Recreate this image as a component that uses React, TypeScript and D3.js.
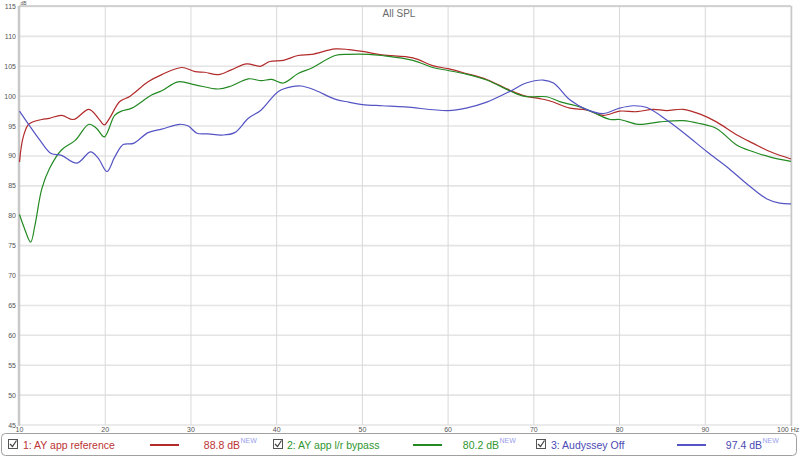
import * as d3 from "d3"
import React from "react"

// frequency (Hz) / SPL (dB) samples
const redFreq = [10, 10.4, 11, 11.4, 12.6, 13.5, 14.9, 16.3, 18.1, 19.2, 19.9, 20.5, 21.7, 22.9, 25, 26.6, 28.9, 30.5, 31.6, 33.2, 34.7, 36.5, 38.1, 39.2, 40.8, 42.5, 44.1, 46.8, 48.4, 50, 52.3, 55.9, 58.2, 60, 62.1, 64.5, 67.2, 68.8, 70.7, 71.9, 74.2, 76.1, 78.1, 80, 82, 83.9, 85.5, 87.4, 89.4, 91.3, 93.7, 95.6, 97.6, 100]
const redDb = [89.0, 93.0, 95.2, 95.6, 96.1, 96.3, 96.8, 96.1, 97.8, 96.3, 95.2, 96.3, 99.1, 100.0, 102.4, 103.6, 104.8, 104.1, 104.0, 103.6, 104.4, 105.4, 105.0, 105.8, 106.0, 106.8, 107.0, 107.9, 107.8, 107.5, 106.9, 106.4, 105.1, 104.6, 103.8, 102.8, 101.0, 100.1, 99.6, 99.2, 98.0, 97.7, 96.8, 97.5, 97.4, 97.8, 97.6, 97.8, 97.0, 95.7, 93.5, 92.1, 90.7, 89.5]

const greenFreq = [10, 10.6, 11.3, 11.8, 12.6, 13.5, 14.9, 16.5, 18.1, 19, 19.9, 21.1, 21.9, 23.1, 25.4, 26.6, 28.5, 30.5, 33.2, 34.7, 36.7, 38.2, 39.4, 40.8, 42.5, 44.1, 46.8, 48.4, 50.7, 52.3, 55.9, 58.2, 60, 62.1, 64.5, 67.2, 68.8, 69.9, 71.5, 73, 75.4, 76.9, 78.9, 80, 82.2, 84.7, 87.4, 89.4, 91.3, 93.7, 95.6, 97.6, 100]
const greenDb = [80.2, 77.8, 75.6, 78.4, 84.5, 87.9, 91.0, 92.6, 95.3, 94.6, 93.2, 96.8, 97.5, 98.0, 100.2, 100.9, 102.4, 101.9, 101.2, 101.7, 102.9, 102.6, 102.8, 102.2, 103.8, 104.7, 106.8, 107.0, 107.0, 106.8, 106.0, 104.8, 104.3, 103.7, 102.7, 100.9, 100.0, 99.9, 99.9, 99.1, 98.2, 97.3, 96.1, 96.1, 95.3, 95.7, 95.9, 95.4, 94.6, 91.8, 90.7, 89.8, 89.1]

const blueFreq = [10, 11, 12.4, 13.7, 14.9, 16.7, 18.3, 19.2, 20.2, 21.1, 22.1, 23.3, 25, 26.6, 28.7, 29.7, 30.7, 32, 33.6, 35.1, 36.7, 38.2, 40.2, 41.8, 42.9, 44.5, 46.8, 48.4, 50, 52.3, 55, 60, 62.1, 64.5, 67.2, 69.1, 71.1, 72.3, 74.2, 76.1, 78.1, 80, 81.6, 83.2, 85.5, 87.8, 90.2, 92.5, 94.8, 97.2, 98.7, 100]
const blueDb = [97.5, 95.4, 92.6, 90.4, 90.1, 88.8, 90.7, 89.6, 87.4, 89.8, 91.9, 92.1, 93.9, 94.5, 95.3, 95.0, 93.8, 93.7, 93.5, 93.9, 96.3, 97.7, 100.8, 101.6, 101.7, 101.0, 99.5, 99.0, 98.6, 98.4, 98.2, 97.6, 98.0, 99.0, 100.8, 102.2, 102.7, 102.2, 99.4, 97.8, 97.1, 98.0, 98.4, 98.1, 96.0, 93.5, 90.7, 88.2, 85.4, 82.8, 82.1, 82.0]

const seriesNames = ["1: AY app reference", "2: AY app l/r bypass", "3: Audyssey Off"]
const seriesLevels = ["88.8 dB", "80.2 dB", "97.4 dB"]
const xTicks = [10, 20, 30, 40, 50, 60, 70, 80, 90, 100]
const yTicks = [45, 50, 55, 60, 65, 70, 75, 80, 85, 90, 95, 100, 105, 110, 115]

const lineColors = ["#b22a2a", "#238a23", "#5454c4"]
const textColors = ["#bb3333", "#2f962f", "#4a4ab4"]

const W = 800
const H = 458

export default function App() {
  const x = d3.scaleLinear().domain([10, 100]).range([19.5, 791])
  const y = d3.scaleLinear().domain([45, 115]).range([425, 6.5])

  const line = d3
    .line<[number, number]>()
    .x((d) => x(d[0]))
    .y((d) => y(d[1]))
    .curve(d3.curveCatmullRom.alpha(0.5))

  const series = [
    d3.zip(redFreq, redDb),
    d3.zip(greenFreq, greenDb),
    d3.zip(blueFreq, blueDb),
  ] as [number, number][][]

  // legend slots: checkbox x, text x, sample line x, level text end x
  const slots = [
    { cb: 8, tx: 23, ln: 150, lv: 240 },
    { cb: 273, tx: 287, ln: 413, lv: 499 },
    { cb: 536, tx: 551, ln: 677, lv: 762 },
  ]

  return (
    <svg
      width={W}
      height={H}
      style={{ position: "fixed", left: 0, top: 0, background: "#fff" }}
      fontFamily="'Liberation Sans', Arial, sans-serif"
    >
      <rect x={0} y={0} width={W} height={H} fill="#fff" />

      {/* horizontal grid */}
      {yTicks.map((t) => (
        <line key={"h" + t} x1={19} x2={791} y1={y(t)} y2={y(t)} stroke="#e4e4e4" strokeWidth={1.6} />
      ))}
      {/* vertical grid */}
      {xTicks.slice(1).map((t) => (
        <line key={"v" + t} x1={x(t)} x2={x(t)} y1={6} y2={425} stroke="#d9d9d9" strokeWidth={1} />
      ))}
      {/* frame */}
      <line x1={19} x2={791} y1={6} y2={6} stroke="#c8c8c8" strokeWidth={1.5} />
      <line x1={19} x2={19} y1={6} y2={426} stroke="#c8c8c8" strokeWidth={2.5} />
      <line x1={791.5} x2={791.5} y1={6} y2={426} stroke="#c8c8c8" strokeWidth={1.5} />

      {/* y tick labels */}
      {yTicks.map((t) => (
        <text key={"yl" + t} x={16} y={y(t) + 2.5} fontSize={7} fill="#555" textAnchor="end">
          {t}
        </text>
      ))}
      <text x={20.5} y={4.6} fontSize={5} fill="#555">dB</text>

      {/* x tick labels */}
      {xTicks.map((t) =>
        t === 100 ? (
          <text key={"xl" + t} x={777} y={432} fontSize={7} fill="#555">
            {t} Hz
          </text>
        ) : (
          <text key={"xl" + t} x={x(t)} y={432} fontSize={7} fill="#555" textAnchor="middle">
            {t}
          </text>
        )
      )}

      <text x={399} y={17} fontSize={10} fill="#6a6a6a" textAnchor="middle">All SPL</text>

      {/* curves */}
      {series.map((s, i) => (
        <path key={"c" + i} d={line(s) || ""} fill="none" stroke={lineColors[i]} strokeWidth={1.2} />
      ))}

      {/* legend */}
      <rect x={1.5} y={433.5} width={795} height={22} rx={4} fill="#fff" stroke="#a0a0a0" strokeWidth={1} />
      {slots.map((s, i) => (
        <g key={"lg" + i}>
          <rect x={s.cb + 0.5} y={439.5} width={9} height={9} fill="#fff" stroke="#555" strokeWidth={1} />
          <path
            d={`M${s.cb + 2},${444} L${s.cb + 4.5},${446.5} L${s.cb + 8.5},${440.5}`}
            fill="none"
            stroke="#444"
            strokeWidth={1.2}
          />
          <text x={s.tx} y={449} fontSize={10.5} fill={textColors[i]}>
            {seriesNames[i]}
          </text>
          <line x1={s.ln} x2={s.ln + 29} y1={445} y2={445} stroke={lineColors[i]} strokeWidth={2} />
          <text x={s.lv} y={449} fontSize={10.5} fill={textColors[i]} textAnchor="end">
            {seriesLevels[i]}
          </text>
          <text x={s.lv + 0.5} y={443} fontSize={7} fill="#9aa0ee">NEW</text>
        </g>
      ))}
    </svg>
  )
}
